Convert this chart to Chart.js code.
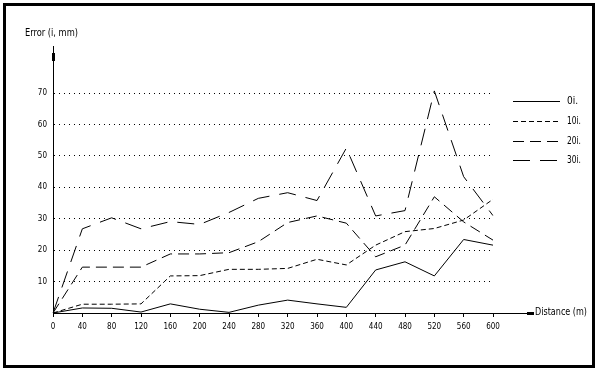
<!DOCTYPE html>
<html>
<head>
<meta charset="utf-8">
<script src="https://cdn.jsdelivr.net/npm/chart.js@4.4.0/dist/chart.umd.min.js"></script>
<style>
  body { margin: 0; background: #fff; }
  #wrap { position: relative; width: 598px; height: 371px; }
  #frame { position: absolute; left: 3px; top: 3px; width: 586px; height: 359px; border: 3px solid #000; }
  canvas { position: absolute; left: 0; top: 0; }
</style>
</head>
<body>
<div id="wrap">
  <canvas id="errorChart" width="598" height="371"></canvas>
  <div id="frame"></div>
</div>
<script>
// distance along the line (m)
const distances = [0, 40, 80, 120, 160, 200, 240, 280, 320, 360, 400, 440, 480, 520, 560, 600];

// error values for each series
const err0 = [0, 1.6, 1.5, 0.3, 2.9, 1.2, 0.2, 2.5, 4.1, 2.9, 1.8, 13.7, 16.3, 11.8, 23.4, 21.6];
const err10 = [0, 2.8, 2.8, 2.9, 11.8, 11.9, 13.9, 13.9, 14.2, 17.1, 15.3, 21.6, 25.9, 26.9, 29.6, 36.2];
const err20 = [0, 14.6, 14.6, 14.6, 18.8, 18.8, 19.2, 22.7, 28.8, 30.9, 28.6, 17.9, 21.6, 37.0, 29.0, 23.2];
const err30 = [0, 26.8, 30.3, 26.8, 29.1, 28.2, 32.0, 36.5, 38.3, 35.8, 52.5, 30.9, 32.6, 70.7, 43.4, 31.0];

const seriesNames = ['0i.', '10i.', '20i.', '30i.'];
const yTicks = [0, 10, 20, 30, 40, 50, 60, 70];

const FONT = '"DejaVu Sans Condensed", "Liberation Sans Narrow", sans-serif';

// axis arrows, titles and the legend on the right
const decorations = {
    id: 'decorations',
    afterDraw(chart) {
        const ctx = chart.ctx;
        const area = chart.chartArea;
        const xAxisY = chart.scales.y.getPixelForValue(0);
        ctx.save();
        ctx.strokeStyle = '#000';
        ctx.fillStyle = '#000';
        ctx.lineWidth = 1;

        // x axis extension + arrow
        ctx.beginPath();
        ctx.moveTo(area.right, xAxisY + 0.5);
        ctx.lineTo(528, xAxisY + 0.5);
        ctx.stroke();
        ctx.fillRect(527, xAxisY - 1, 7, 3);

        // y axis arrow
        ctx.fillRect(area.left - 1, area.top + 7, 3, 8);

        ctx.font = '10px ' + FONT;
        ctx.textBaseline = 'middle';
        ctx.textAlign = 'left';
        ctx.fillText('Distance (m)', 535, xAxisY - 1, 52);
        ctx.fillText('Error (i, mm)', 25, 33, 53);

        // legend
        chart.data.datasets.forEach((ds, i) => {
            const y = Math.round(101 + i * 19.8) + 0.5;
            ctx.setLineDash(ds.borderDash || []);
            ctx.beginPath();
            ctx.moveTo(513, y);
            ctx.lineTo(560, y);
            ctx.stroke();
            ctx.setLineDash([]);
            ctx.fillText(ds.label, 567, y, 14);
        });
        ctx.restore();
    }
};

function makeSeries(label, data, dash) {
    return {
        label: label,
        data: data,
        borderColor: '#000',
        borderWidth: 1,
        borderDash: dash,
        pointRadius: 0,
        fill: false,
        tension: 0
    };
}

document.addEventListener('DOMContentLoaded', () => {
    const ctx = document.getElementById('errorChart').getContext('2d');

    new Chart(ctx, {
        type: 'line',
        data: {
            labels: distances,
            datasets: [
                makeSeries(seriesNames[0], err0, []),
                makeSeries(seriesNames[1], err10, [5, 3]),
                makeSeries(seriesNames[2], err20, [11, 6]),
                makeSeries(seriesNames[3], err30, [17, 10])
            ]
        },
        options: {
            responsive: false,
            animation: false,
            layout: {
                padding: { left: 0, right: 105, top: 46, bottom: 38 }
            },
            plugins: {
                legend: { display: false },
                tooltip: { enabled: false }
            },
            scales: {
                x: {
                    type: 'category',
                    offset: false,
                    afterFit: scale => { scale.height = 20; },
                    border: { color: '#000', width: 1 },
                    grid: {
                        drawOnChartArea: false,
                        drawTicks: true,
                        tickLength: 4,
                        color: '#000'
                    },
                    ticks: {
                        color: '#000',
                        padding: 5,
                        maxRotation: 0,
                        autoSkip: false,
                        font: { family: FONT, size: 8 }
                    }
                },
                y: {
                    min: 0,
                    max: 85,
                    afterFit: scale => { scale.width = 53; },
                    afterBuildTicks: scale => {
                        scale.ticks = yTicks.map(v => ({ value: v }));
                    },
                    grid: {
                        drawTicks: false,
                        color: ctx => ctx.tick && ctx.tick.value === 0 ? 'rgba(0,0,0,0)' : '#000',
                        lineWidth: 1
                    },
                    border: { color: '#000', width: 1, dash: [1, 4] },
                    ticks: {
                        color: '#000',
                        padding: 6,
                        font: { family: FONT, size: 8 },
                        callback: value => value === 0 ? '' : value
                    }
                }
            }
        },
        plugins: [decorations]
    });
});
</script>
</body>
</html>
